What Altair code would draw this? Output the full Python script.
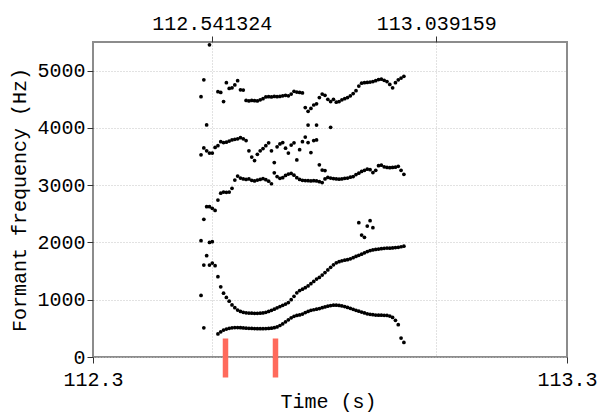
import altair as alt
import pandas as pd

# Formant analysis frames (Praat-style: first frame time and time step)
FRAME_START = 112.5175
FRAME_STEP = 0.00625

N = None
F1 = [1075, 510, 1770, 1606, 1640, 1595, 402, 440, 470, 488,
      500, 510, 515, 515, 512, 508, 504, 500, 498, 496,
      495, 495, 495, 496, 498, 503, 512, 525, 550, 580,
      615, 650, 685, 710, 725, 735, 750, 775, 795, 815,
      825, 835, 845, 860, 875, 888, 898, 905, 905, 900,
      892, 880, 866, 850, 833, 815, 800, 785, 770, 755,
      745, 738, 733, 730, 730, 728, 725, 715, 690, 640,
      565, 330, 255]
F2 = [2030, 1606, 2625, 2000, 2014, 2560, 1402, 1225, 1115, 1040,
      975, 910, 860, 820, 795, 780, 772, 768, 765, 763,
      763, 765, 770, 780, 795, 815, 835, 858, 880, 903,
      925, 950, 1000, 1060, 1120, 1160, 1185, 1210, 1240, 1280,
      1320, 1360, 1390, 1430, 1475, 1520, 1565, 1610, 1645, 1665,
      1680, 1690, 1700, 1715, 1735, 1755, 1775, 1795, 1820, 1840,
      1858, 1870, 1878, 1885, 1892, 1898, 1902, 1900, 1905, 1910,
      1915, 1925, 1935]
F3 = [3530, 2404, 3600, 2625, 2596, 3660, 2741, 2860, 2880, 2875,
      2880, 2945, 3090, 3160, 3125, 3110, 3100, 3110, 3085, 3075,
      3090, 3100, 3115, 3095, 3070, 3025, 3215, 3150, 3120, 3130,
      3170, 3195, 3205, 3175, 3130, 3100, 3085, 3080, 3078, 3075,
      3078, 3075, 3060, 3045, 3110, 3135, 3125, 3115, 3110, 3105,
      3110, 3120, 3125, 3140, 3150, 3185, 3210, 3240, 3260, 3280,
      3270, 3220, 3260, 3340, 3350, 3320, 3310, 3305, 3310, 3315,
      3330, 3260, 3190]
F4 = [4546, 3650, 4051, 3560, 3560, N, 3690, 3760, 3745, 3750,
      3770, 3790, 3800, 3810, 3830, 3810, 3780, 3600, 3490, 3430,
      3540, 3600, 3640, 3690, 3740, 3600, 3395, 3670, 3720, 3745,
      3645, 3560, 3700, 3740, 3440, 3620, 3760, 3840, 3745, 3570,
      3780, 3790, 3355, 3265, 3255, N, N, N, N, N,
      N, N, N, N, N, N, 2345, 2130, 2090, 2287,
      2380, 2258, N, N, N, N, N, N, N, N,
      N, N, N]
F5 = [N, 4840, N, 5450, N, N, 4633, 4620, 4460, 4790,
      4690, 4700, 4750, 4825, 4665, 4660, 4480, 4470, 4480, 4475,
      4470, 4490, 4510, 4540, 4545, 4540, 4550, 4545, 4550, 4560,
      4570, 4560, 4590, 4640, 4625, 4620, 4610, 4355, 4290, 4340,
      4400, 4420, 4530, 4590, 4570, 4500, 4460, 4500, 4450, 4460,
      4490, 4510, 4530, 4560, 4600, 4650, 4730, 4780, 4790, 4795,
      4800, 4810, 4825, 4845, 4850, 4830, 4810, 4760, 4700, 4790,
      4840, 4870, 4900]
EXTRA_FRAME = [38, 41, 46]
EXTRA_HZ = [4050, 4050, 4010]

X_MIN, X_MAX = 112.2779, 113.3293
TOP_TICKS = [112.541324, 113.039159]
Y_TICKS = [0, 1000, 2000, 3000, 4000, 5000]
Y_MAX = 5500
BOUNDARIES = [112.5718, 112.6827]

rows = []
for track in (F1, F2, F3, F4, F5):
    for i, v in enumerate(track):
        if v is not None:
            rows.append({"time": FRAME_START + i * FRAME_STEP, "hz": v})
for i, v in zip(EXTRA_FRAME, EXTRA_HZ):
    rows.append({"time": FRAME_START + i * FRAME_STEP, "hz": v})
df = pd.DataFrame(rows)

FONT = "Liberation Mono"
xscale = alt.Scale(domain=[X_MIN, X_MAX], nice=False, zero=False)
yscale = alt.Scale(domain=[0, Y_MAX], nice=False, zero=False)

points = alt.Chart(df).mark_circle(size=14, color="black", opacity=1).encode(
    x=alt.X("time:Q", scale=xscale,
            axis=alt.Axis(orient="bottom", values=[X_MIN, X_MAX],
                          labelExpr="format(datum.value, '.1f')",
                          title="Time (s)", grid=False, tickSize=6,
                          labelPadding=22, labelBaseline="alphabetic",
                          labelFlush=False, labelOverlap=False, labelBound=False,
                          titleX=235, titleY=50, titleBaseline="alphabetic",
                          titleAlign="center")),
    y=alt.Y("hz:Q", scale=yscale,
            axis=alt.Axis(values=Y_TICKS, format="d", title="Formant frequency (Hz)",
                          grid=True, tickSize=6, labelPadding=2,
                          labelFlush=False, labelOverlap=False,
                          titleX=-68, titleY=157.5, titleAngle=270,
                          titleBaseline="alphabetic", titleAlign="center")),
)

top = alt.Chart(pd.DataFrame({"time": TOP_TICKS})).mark_rule(opacity=0).encode(
    x=alt.X("time:Q", scale=xscale,
            axis=alt.Axis(orient="top", values=TOP_TICKS, format=".6f",
                          title=None, grid=True, tickSize=6, labelPadding=7,
                          labelBaseline="alphabetic", labelFlush=False,
                          labelOverlap=False, labelBound=False)),
)

marks = alt.Chart(pd.DataFrame({"time": BOUNDARIES})).mark_rule(
    color="#ff6a5c", strokeWidth=5.5).encode(
    x=alt.X("time:Q", scale=xscale, axis=None),
    y=alt.value(296.5),
    y2=alt.value(335.5),
)

chart = alt.layer(top, points, marks).resolve_axis(x="independent").properties(
    width=474, height=315,
    autosize=alt.AutoSizeParams(type="none"),
    padding={"left": 93, "top": 42, "right": 31, "bottom": 56},
    background="white",
).configure_view(
    stroke="#8c8c8c", strokeWidth=2,
).configure_axis(
    labelFont=FONT, titleFont=FONT, labelFontSize=20, titleFontSize=20,
    labelFontWeight="normal", titleFontWeight="normal",
    labelColor="#000000", titleColor="#000000",
    domain=False, tickColor="#333333", tickWidth=1,
    gridColor="#c4c4c4", gridDash=[1, 2], gridWidth=1,
)

chart.save("out.html", embed_options={"renderer": "svg", "actions": False})
